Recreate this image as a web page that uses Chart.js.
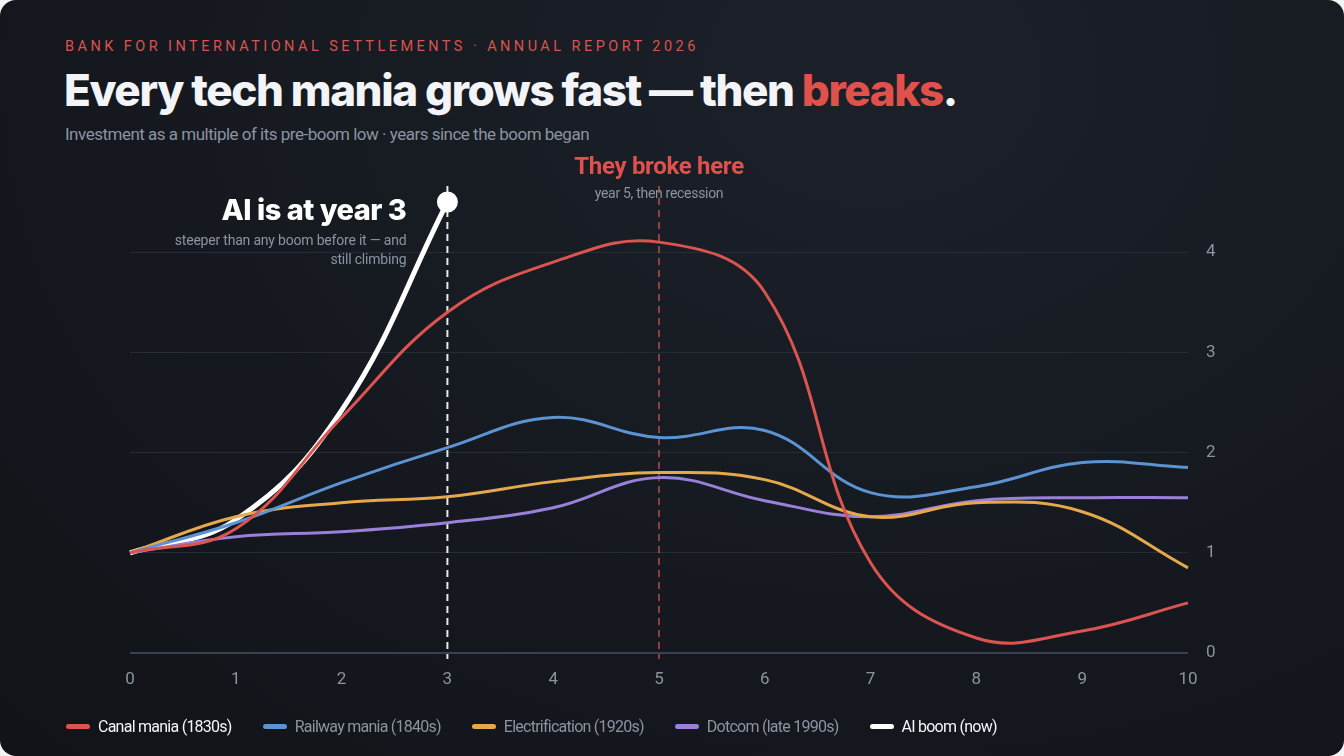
<!DOCTYPE html>
<html>
<head>
<meta charset="utf-8">
<script src="https://cdn.jsdelivr.net/npm/chart.js@4.4.1/dist/chart.umd.min.js"></script>
<style>
  html, body { margin: 0; padding: 0; background: #f4f4f4; }
  .card {
    position: relative; width: 1344px; height: 756px; overflow: hidden;
    border-radius: 16px;
    background: radial-gradient(ellipse at 65% 10%, #1c2029 0%, #161a21 45%, #111318 100%);
    font-family: Roboto, sans-serif;
  }
  .kicker {
    position: absolute; left: 65px; top: 38px; font-size: 14.5px; letter-spacing: 3.45px;
    color: #d9534f; white-space: nowrap;
  }
  .title {
    position: absolute; left: 64px; top: 63px; font-family: Inter, sans-serif; font-weight: 800;
    font-size: 44px; letter-spacing: -1.4px; color: #f2f4f7; white-space: nowrap;
  }
  .title span { color: #e0514c; }
  .sub {
    position: absolute; left: 65px; top: 124px; font-size: 17px; letter-spacing: -0.5px; color: #8c93a0; white-space: nowrap;
  }
  canvas { position: absolute; left: 0; top: 0; }
  .legend { position: absolute; left: 66px; top: 717px; display: flex; font-size: 16px; letter-spacing: -0.75px; white-space: nowrap; }
  .legend .item { display: flex; align-items: center; margin-right: 31px; }
  .legend .sw { width: 24px; height: 5px; border-radius: 3px; margin-right: 8px; }
</style>
</head>
<body>
<div class="card">
  <div class="kicker">BANK FOR INTERNATIONAL SETTLEMENTS · ANNUAL REPORT 2026</div>
  <div class="title">Every tech mania grows fast — then <span>breaks</span>.</div>
  <div class="sub">Investment as a multiple of its pre-boom low · years since the boom began</div>
  <canvas id="maniaChart" width="1344" height="756"></canvas>
  <div class="legend" id="legend"></div>
</div>
<script>
// years since the boom began
const years = ['0', '1', '2', '3', '4', '5', '6', '7', '8', '9', '10'];

// investment as a multiple of the pre-boom low
const canal = [1.0, 1.24, 2.35, 3.4, 3.9, 4.1, 3.6, 0.9, 0.15, 0.22, 0.5];
const railway = [1.0, 1.3, 1.7, 2.05, 2.35, 2.15, 2.22, 1.6, 1.66, 1.9, 1.85];
const electrification = [1.0, 1.36, 1.5, 1.56, 1.71, 1.8, 1.73, 1.36, 1.5, 1.41, 0.85];
const dotcom = [1.0, 1.16, 1.21, 1.3, 1.45, 1.75, 1.52, 1.36, 1.52, 1.55, 1.55];
const aiBoom = [1.0, 1.33, 2.42, 4.5];

const seriesNames = ['Canal mania (1830s)', 'Railway mania (1840s)', 'Electrification (1920s)', 'Dotcom (late 1990s)', 'AI boom (now)'];
const seriesColors = ['#dc5450', '#5b93d3', '#e5a84b', '#9a80d8', '#ffffff'];
const legendText = ['#f2f4f7', '#8c93a0', '#8c93a0', '#8c93a0', '#f2f4f7'];

const yTicks = [0, 1, 2, 3, 4];
const aiYear = 3;
const breakYear = 5;

// legend below the chart
const legendEl = document.getElementById('legend');
seriesNames.forEach((name, i) => {
  const item = document.createElement('div');
  item.className = 'item';
  item.innerHTML = '<div class="sw" style="background:' + seriesColors[i] + '"></div><span style="color:' + legendText[i] + '">' + name + '</span>';
  legendEl.appendChild(item);
});

// dashed markers and the two annotations
const markers = {
  id: 'markers',
  beforeDatasetsDraw(chart) {
    const { ctx, chartArea, scales } = chart;
    const xa = scales.x.getPixelForValue(aiYear);
    const xb = scales.x.getPixelForValue(breakYear);
    ctx.save();
    ctx.setLineDash([7, 5]);
    ctx.lineWidth = 2;
    ctx.strokeStyle = 'rgba(255,255,255,0.9)';
    ctx.beginPath();
    ctx.moveTo(xa, chartArea.top);
    ctx.lineTo(xa, chartArea.bottom + 6);
    ctx.stroke();
    ctx.lineWidth = 1.6;
    ctx.strokeStyle = 'rgba(220,84,80,0.8)';
    ctx.beginPath();
    ctx.moveTo(xb, chartArea.top);
    ctx.lineTo(xb, chartArea.bottom + 6);
    ctx.stroke();
    ctx.restore();
  },
  afterDatasetsDraw(chart) {
    const { ctx, scales } = chart;
    const xa = scales.x.getPixelForValue(aiYear);
    const xb = scales.x.getPixelForValue(breakYear);
    ctx.save();
    ctx.textBaseline = 'middle';
    ctx.textAlign = 'center';
    ctx.fillStyle = '#e0514c';
    ctx.letterSpacing = '-0.3px';
    ctx.font = "bold 24px Roboto, sans-serif";
    ctx.fillText('They broke here', xb, 168);
    ctx.fillStyle = '#8c93a0';
    ctx.letterSpacing = '-0.3px';
    ctx.font = "14px Roboto, sans-serif";
    ctx.fillText('year 5, then recession', xb, 194);
    ctx.textAlign = 'right';
    ctx.fillStyle = '#ffffff';
    ctx.letterSpacing = '-0.5px';
    ctx.font = "800 29px Inter, sans-serif";
    ctx.fillText('AI is at year 3', xa - 41, 211);
    ctx.fillStyle = '#8c93a0';
    ctx.letterSpacing = '-0.2px';
    ctx.font = "14px Roboto, sans-serif";
    ctx.fillText('steeper than any boom before it — and', xa - 41, 241);
    ctx.fillText('still climbing', xa - 41, 260);
    ctx.restore();
  }
};

const lineSet = (label, data, color, width) => ({
  label: label,
  data: data,
  borderColor: color,
  backgroundColor: color,
  borderWidth: width,
  tension: 0.4,
  pointRadius: 0,
  fill: false,
});

const datasets = [
  lineSet(seriesNames[0], canal, seriesColors[0], 3),
  lineSet(seriesNames[1], railway, seriesColors[1], 3),
  lineSet(seriesNames[2], electrification, seriesColors[2], 3),
  lineSet(seriesNames[3], dotcom, seriesColors[3], 3),
  lineSet(seriesNames[4], aiBoom, seriesColors[4], 5),
];
datasets[4].pointRadius = (c) => (c.dataIndex === aiBoom.length - 1 ? 8 : 0);

new Chart(document.getElementById('maniaChart'), {
  type: 'line',
  data: { labels: years, datasets: datasets },
  options: {
    responsive: false,
    animation: false,
    layout: { padding: { top: 186, left: 130, right: 116, bottom: 63 } },
    plugins: { legend: { display: false }, tooltip: { enabled: false } },
    scales: {
      x: {
        grid: { display: false, drawTicks: false },
        border: { display: false },
        ticks: { color: '#8c93a0', font: { family: 'Roboto', size: 17 }, padding: 17, maxRotation: 0 },
        afterFit: (s) => { s.height = 40; },
      },
      y: {
        position: 'right',
        min: 0,
        max: 4.66,
        afterBuildTicks: (s) => { s.ticks = yTicks.map((v) => ({ value: v })); },
        grid: {
          drawTicks: false,
          color: (c) => (c.tick && c.tick.value === 0 ? '#3a414e' : '#262c37'),
          lineWidth: (c) => (c.tick && c.tick.value === 0 ? 2 : 1),
        },
        border: { display: false },
        ticks: { color: '#8c93a0', font: { family: 'Roboto', size: 17 }, padding: 18 },
        afterFit: (s) => { s.width = 40; },
      },
    },
  },
  plugins: [markers],
});
</script>
</body>
</html>
